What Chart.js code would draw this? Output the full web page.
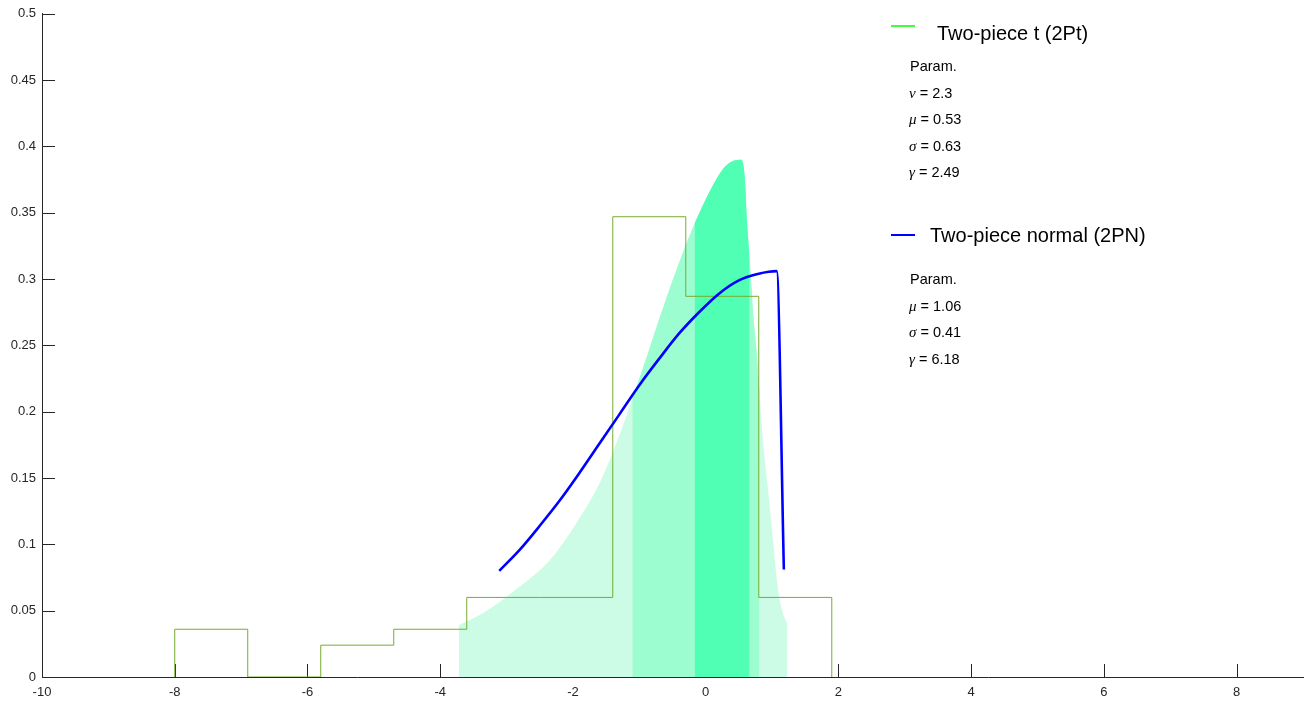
<!DOCTYPE html>
<html>
<head>
<meta charset="utf-8">
<script src="https://cdn.jsdelivr.net/npm/chart.js@4.4.0/dist/chart.umd.min.js"></script>
<style>
  html, body { margin: 0; padding: 0; background: #fff; }
  #densityChart { display: block; }
</style>
</head>
<body>
<canvas id="densityChart" width="1315" height="704"></canvas>
<script>
'use strict';

// axis ticks
const xTicks = [-10, -8, -6, -4, -2, 0, 2, 4, 6, 8];
const yTicks = [0, 0.05, 0.1, 0.15, 0.2, 0.25, 0.3, 0.35, 0.4, 0.45, 0.5];
const yTickLabels = ['0', '0.05', '0.1', '0.15', '0.2', '0.25', '0.3', '0.35', '0.4', '0.45', '0.5'];

// histogram (density)
const binEdges = [-8.0, -6.9, -5.8, -4.7, -3.6, -2.5, -1.4, -0.3, 0.8, 1.9];
const binHeights = [0.036, 0, 0.024, 0.036, 0.060, 0.060, 0.347, 0.287, 0.060];

// two-piece t density
const tptX = [-3.72, -3.36, -2.86, -2.35, -1.95, -1.60, -1.28, -1.105, -0.945, -0.59, -0.166, 0.06, 0.26, 0.41, 0.54, 0.59, 0.62, 0.66, 0.69, 0.72, 0.76, 0.81, 0.86, 0.94, 1.015, 1.09, 1.165, 1.23];
const tptY = [0.039, 0.048, 0.066, 0.088, 0.116, 0.146, 0.185, 0.210, 0.233, 0.286, 0.342, 0.366, 0.383, 0.389, 0.390, 0.376, 0.346, 0.316, 0.296, 0.271, 0.250, 0.215, 0.180, 0.141, 0.103, 0.066, 0.048, 0.040];

// shaded bands of the 2Pt density (outer, middle, inner)
const bandOuter = [-3.72, 1.23];
const bandMiddle = [-1.105, 0.81];
const bandInner = [-0.166, 0.66];

// two-piece normal density
const pnX = [-3.11, -2.8, -2.5, -2.2, -1.9, -1.6, -1.3, -1.0, -0.7, -0.4, -0.1, 0.2, 0.5, 0.8, 0.95, 1.07, 1.178];
const pnY = [0.080, 0.096, 0.114, 0.133, 0.154, 0.176, 0.198, 0.220, 0.240, 0.259, 0.275, 0.289, 0.299, 0.304, 0.3055, 0.306, 0.081];

const axisColor = '#262626';
const sansFont = '"Liberation Sans", Arial, Helvetica, sans-serif';

function bandPoints(band) {
  return tptX
    .map((x, i) => ({ x: x, y: tptY[i] }))
    .filter((p) => p.x >= band[0] - 1e-9 && p.x <= band[1] + 1e-9);
}

const histPoints = [{ x: binEdges[0], y: 0 }];
binHeights.forEach((h, i) => histPoints.push({ x: binEdges[i], y: h }));
histPoints.push({ x: binEdges[binEdges.length - 1], y: 0 });

const pnPoints = pnX.map((x, i) => ({ x: x, y: pnY[i] }));

// MATLAB style ticks pointing into the plot, drawn under the data
const innerTicks = {
  id: 'innerTicks',
  beforeDatasetsDraw(chart) {
    const { ctx, chartArea, scales } = chart;
    ctx.save();
    ctx.strokeStyle = axisColor;
    ctx.lineWidth = 1;
    ctx.beginPath();
    xTicks.forEach((v) => {
      const px = Math.round(scales.x.getPixelForValue(v)) + 0.5;
      ctx.moveTo(px, chartArea.bottom);
      ctx.lineTo(px, chartArea.bottom - 13);
    });
    yTicks.forEach((v) => {
      const py = Math.round(scales.y.getPixelForValue(v)) + 0.5;
      ctx.moveTo(chartArea.left, py);
      ctx.lineTo(chartArea.left + 13, py);
    });
    ctx.stroke();
    ctx.restore();
  },
};

// legend with parameter blocks
const legendBlocks = [
  {
    title: 'Two-piece t (2Pt)', color: '#00ff00', lineY: 26, titleX: 937, titleBase: 39.5, paramBase: 71,
    params: [['ν', '2.3'], ['μ', '0.53'], ['σ', '0.63'], ['γ', '2.49']],
  },
  {
    title: 'Two-piece normal (2PN)', color: '#0000ff', lineY: 235, titleX: 930, titleBase: 241.5, paramBase: 284,
    params: [['μ', '1.06'], ['σ', '0.41'], ['γ', '6.18']],
  },
];

const paramLegend = {
  id: 'paramLegend',
  afterDraw(chart) {
    const ctx = chart.ctx;
    ctx.save();
    ctx.textBaseline = 'alphabetic';
    ctx.textAlign = 'left';
    legendBlocks.forEach((b, k) => {
      ctx.strokeStyle = b.color;
      ctx.lineWidth = k === 0 ? 1.5 : 2;
      ctx.beginPath();
      ctx.moveTo(891, b.lineY);
      ctx.lineTo(915, b.lineY);
      ctx.stroke();

      ctx.fillStyle = '#000';
      ctx.font = '20px ' + sansFont;
      ctx.fillText(b.title, b.titleX, b.titleBase);

      ctx.font = '14.5px ' + sansFont;
      let base = b.paramBase;
      ctx.fillText('Param.', 910, base);
      b.params.forEach((p) => {
        base += 26.5;
        ctx.font = 'italic 15px "Liberation Serif", "Times New Roman", serif';
        ctx.fillText(p[0], 909, base);
        const w = ctx.measureText(p[0]).width;
        ctx.font = '14.5px ' + sansFont;
        ctx.fillText(' = ' + p[1], 909 + w, base);
      });
    });
    ctx.restore();
  },
};

new Chart(document.getElementById('densityChart'), {
  type: 'line',
  data: {
    datasets: [
      {
        label: 'Two-piece normal (2PN)',
        data: pnPoints,
        borderColor: '#0000ff',
        borderWidth: 2.6,
        pointRadius: 0,
        fill: false,
        cubicInterpolationMode: 'monotone',
        order: 0,
      },
      {
        label: 'Histogram',
        data: histPoints,
        borderColor: '#77ac30',
        borderWidth: 1,
        pointRadius: 0,
        fill: false,
        stepped: true,
        order: 1,
      },
      {
        label: '2Pt inner',
        data: bandPoints(bandInner),
        borderWidth: 0,
        borderColor: 'rgba(0,0,0,0)',
        backgroundColor: '#50feb4',
        pointRadius: 0,
        fill: 'origin',
        cubicInterpolationMode: 'monotone',
        order: 2,
      },
      {
        label: '2Pt middle',
        data: bandPoints(bandMiddle),
        borderWidth: 0,
        borderColor: 'rgba(0,0,0,0)',
        backgroundColor: '#9cfdd0',
        pointRadius: 0,
        fill: 'origin',
        cubicInterpolationMode: 'monotone',
        order: 3,
      },
      {
        label: '2Pt outer',
        data: bandPoints(bandOuter),
        borderWidth: 0,
        borderColor: 'rgba(0,0,0,0)',
        backgroundColor: '#ccfce5',
        pointRadius: 0,
        fill: 'origin',
        cubicInterpolationMode: 'monotone',
        order: 4,
      },
    ],
  },
  options: {
    responsive: false,
    animation: false,
    layout: { padding: { top: 12, right: 12, left: 0, bottom: 0 } },
    plugins: {
      legend: { display: false },
      tooltip: { enabled: false },
    },
    scales: {
      x: {
        type: 'linear',
        min: -10,
        max: 9,
        afterBuildTicks: (s) => { s.ticks = xTicks.map((v) => ({ value: v })); },
        afterFit: (s) => { s.height = 27; },
        grid: { display: false, drawTicks: false },
        border: { display: true, color: axisColor, width: 1 },
        ticks: {
          color: axisColor,
          font: { family: sansFont, size: 13 },
          padding: 8,
          maxRotation: 0,
          autoSkip: false,
        },
      },
      y: {
        type: 'linear',
        min: 0,
        max: 0.5,
        afterBuildTicks: (s) => { s.ticks = yTicks.map((v) => ({ value: v })); },
        afterFit: (s) => { s.width = 42; },
        grid: { display: false, drawTicks: false },
        border: { display: true, color: axisColor, width: 1 },
        ticks: {
          color: axisColor,
          font: { family: sansFont, size: 13 },
          padding: 6,
          autoSkip: false,
          callback: (v, i) => yTickLabels[i],
        },
      },
    },
  },
  plugins: [innerTicks, paramLegend],
});
</script>
</body>
</html>
